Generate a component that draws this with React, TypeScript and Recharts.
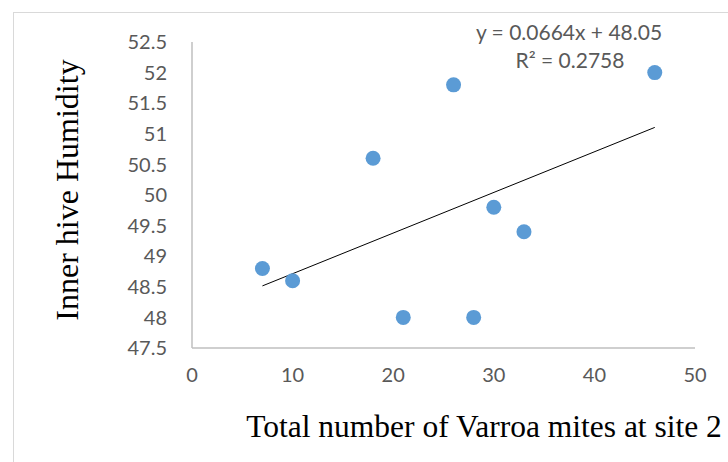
import { ScatterChart, Scatter, XAxis, YAxis } from "recharts";

const mites = [7, 10, 18, 21, 26, 28, 30, 33, 46];
const humidity = [48.8, 48.6, 50.6, 48, 51.8, 48, 49.8, 49.4, 52];
const xTicks = [0, 10, 20, 30, 40, 50];
const yTicks = [47.5, 48, 48.5, 49, 49.5, 50, 50.5, 51, 51.5, 52, 52.5];
const slope = 0.0664;
const intercept = 48.05;
const rSquared = 0.2758;

const points = mites.map((x, i) => ({ x, y: humidity[i] }));
const xMin = Math.min(...mites);
const xMax = Math.max(...mites);
const trend = [
  { x: xMin, y: slope * xMin + intercept },
  { x: xMax, y: slope * xMax + intercept },
];

const sans = "Lato, 'Open Sans', sans-serif";
const tickStyle = { fontSize: 20, fill: "#595959", fontFamily: sans };
const serif = "'Liberation Serif', 'Times New Roman', serif";

const Dot = (props: any) => <circle cx={props.cx} cy={props.cy} r={7.5} fill="#5b9bd5" />;

export default function App() {
  return (
    <div style={{ position: "absolute", left: 0, top: 0, width: 728, height: 462, background: "#fff", overflow: "hidden" }}>
      <div
        style={{
          position: "absolute",
          left: 13,
          top: 12,
          width: 740,
          height: 470,
          border: "1px solid #d9d9d9",
        }}
      />
      <ScatterChart width={728} height={462} margin={{ top: 42, right: 33, bottom: 84, left: 132 }}>
        <XAxis
          type="number"
          dataKey="x"
          domain={[0, 50]}
          ticks={xTicks}
          tickLine={false}
          axisLine={{ stroke: "#bfbfbf", strokeWidth: 1.5 }}
          tick={tickStyle}
          tickMargin={14}
          height={30}
        />
        <YAxis
          type="number"
          dataKey="y"
          domain={[47.5, 52.5]}
          ticks={yTicks}
          tickLine={false}
          axisLine={{ stroke: "#bfbfbf", strokeWidth: 1.5 }}
          tick={tickStyle}
          tickMargin={19}
          width={60}
          interval={0}
        />
        <Scatter
          data={trend}
          line={{ stroke: "#000", strokeWidth: 1 }}
          shape={() => <g />}
          isAnimationActive={false}
        />
        <Scatter data={points} fill="#5b9bd5" shape={Dot} isAnimationActive={false} />
        <text x={569} y={40} textAnchor="middle" fontSize={21} fill="#595959" fontFamily={sans}>
          {`y = ${slope}x + ${intercept}`}
        </text>
        <text x={570} y={68} textAnchor="middle" fontSize={21} fill="#595959" fontFamily={sans}>
          {`R² = ${rSquared}`}
        </text>
        <text x={484} y={437} textAnchor="middle" fontSize={31.5} fill="#000" fontFamily={serif}>
          Total number of Varroa mites at site 2
        </text>
        <text
          x={78}
          y={190}
          textAnchor="middle"
          fontSize={32}
          fill="#000"
          fontFamily={serif}
          transform="rotate(-90 78 190)"
        >
          Inner hive Humidity
        </text>
      </ScatterChart>
    </div>
  );
}
